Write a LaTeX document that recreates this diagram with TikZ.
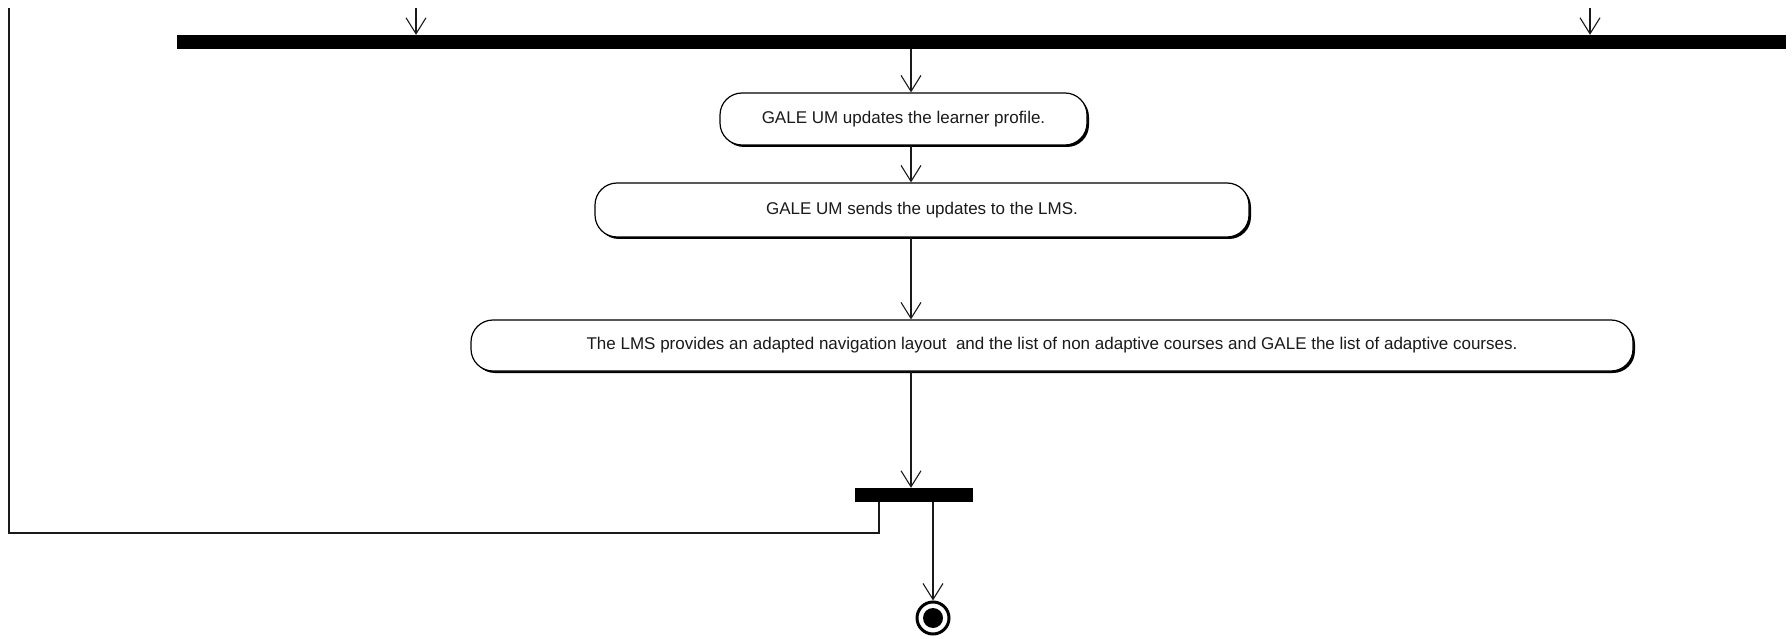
\documentclass[tikz,border=0pt]{standalone}
\usepackage{fontspec}
\setsansfont{Liberation Sans}
\usetikzlibrary{arrows.meta,shadows}
\definecolor{umlInk}{HTML}{1A1A1A}
\tikzset{
 umlflow/.style={draw=umlInk,line width=1.2pt,-{Straight Barb[length=16pt,width=20pt,line width=1.1pt]}},
 umlline/.style={draw=umlInk,line width=1.2pt},
 activity/.style={draw=black,fill=white,line width=1.2pt,rounded corners=22pt,inner sep=0pt,
   font=\sffamily\fontsize{17}{20}\selectfont,text=umlInk,
   drop shadow={shadow xshift=2pt,shadow yshift=-2pt,fill=black,opacity=1}},
 syncbar/.style={rectangle,fill=black,draw=none,inner sep=0pt,minimum height=14pt},
 finalnode/.style={circle,draw=black,line width=3pt,fill=white,inner sep=0pt,minimum size=32pt,
   path picture={\fill[black] (path picture bounding box.center) circle (10pt);}}
}

\begin{document}
\begin{tikzpicture}[x=1pt,y=-1pt]
 \useasboundingbox (0,0) rectangle (1792,639);
 % bars
 \node[syncbar,minimum width=1609pt] (fork) at (981.5,42) {};
 \node[syncbar,minimum width=118pt] (join) at (914,495) {};
 % activities
 \node[activity,minimum width=367pt,minimum height=52pt] (act1) at (903.5,119) {GALE UM updates the learner profile.};
 \node[activity,minimum width=654pt,minimum height=54pt] (act2) at (922,210) {GALE UM sends the updates to the LMS.};
 \node[activity,minimum width=1162pt,minimum height=51pt] (act3) at (1052,345.5) {The LMS provides an adapted navigation layout\ \ and the list of non adaptive courses and GALE the list of adaptive courses.};
 \node[finalnode] (final) at (933,618) {};
 \coordinate (inA) at (416,8);
 \coordinate (inB) at (1590,8);
 \coordinate (spine) at (911,0);
 \coordinate (exitx) at (933,0);
 \coordinate (loopx) at (879,0);
 \coordinate (loopCorner) at (9,533);
 \coordinate (loopEnd) at (9,8);
 \draw[umlflow] (inA) -- (inA |- fork.north);
 \draw[umlflow] (inB) -- (inB |- fork.north);
 \draw[umlflow] (spine |- fork.south) -- (spine |- act1.north);
 \draw[umlflow] (spine |- act1.south) -- (spine |- act2.north);
 \draw[umlflow] (spine |- act2.south) -- (spine |- act3.north);
 \draw[umlflow] (spine |- act3.south) -- (spine |- join.north);
 \draw[umlflow] (exitx |- join.south) -- (final.north);
 \draw[umlline] (loopx |- join.south) |- (loopCorner) -- (loopEnd);
\end{tikzpicture}
\end{document}
